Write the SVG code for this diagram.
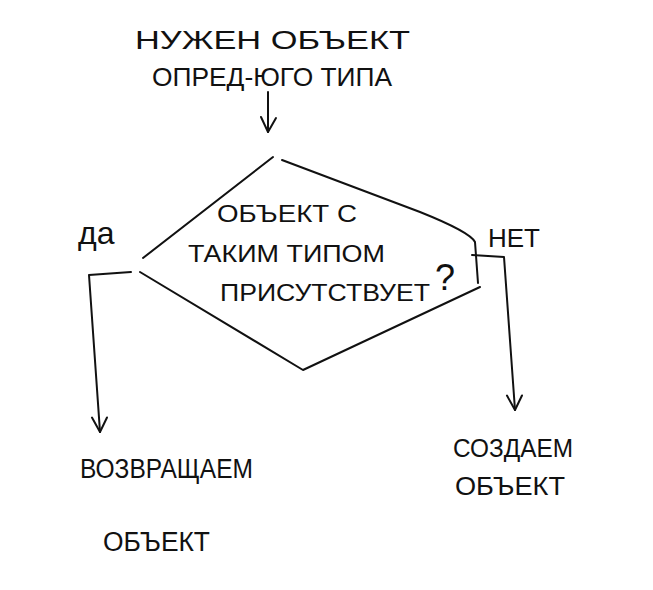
<svg xmlns="http://www.w3.org/2000/svg" width="653" height="590" viewBox="0 0 653 590">
<style>
.ln{fill:none;stroke:#111;stroke-width:2;stroke-linecap:round;stroke-linejoin:round}
.t{font-family:"Liberation Sans","DejaVu Sans",sans-serif;fill:#111}
</style>
<defs>
<marker id="ah" viewBox="0 0 20 20" refX="18" refY="10" markerWidth="20" markerHeight="20" markerUnits="userSpaceOnUse" orient="auto">
<path d="M4,2 L18,10 L3,17" fill="none" stroke="#111" stroke-width="2" stroke-linecap="round" stroke-linejoin="round"/>
</marker>
</defs>
<rect width="653" height="590" fill="#fff"/>
<g id="start">
<text class="t" x="135" y="49" font-size="25" textLength="275" lengthAdjust="spacingAndGlyphs">НУЖЕН  ОБЪЕКТ</text>
<text class="t" x="152" y="86" font-size="25" textLength="240" lengthAdjust="spacingAndGlyphs">ОПРЕД-ЮГО  ТИПА</text>
</g>
<g id="decision">
<path class="ln" d="M143,258 L273,157"/>
<path class="ln" d="M282,160 L420,212 Q470,232 475,242 L478,283"/>
<path class="ln" d="M140,272 L303,370 L480,287"/>
<text class="t" x="217" y="222" font-size="24" textLength="140" lengthAdjust="spacingAndGlyphs">ОБЪЕКТ С</text>
<text class="t" x="188" y="262" font-size="24" textLength="197" lengthAdjust="spacingAndGlyphs">ТАКИМ ТИПОМ</text>
<text class="t" x="220" y="301" font-size="24" textLength="210" lengthAdjust="spacingAndGlyphs">ПРИСУТСТВУЕТ</text>
<text class="t" x="435" y="290" font-size="36">?</text>
</g>
<g id="yes-result">
<text class="t" x="80" y="478" font-size="27" textLength="173" lengthAdjust="spacingAndGlyphs">ВОЗВРАЩАЕМ</text>
<text class="t" x="103" y="551" font-size="27" textLength="107" lengthAdjust="spacingAndGlyphs">ОБЪЕКТ</text>
</g>
<g id="no-result">
<text class="t" x="453" y="457" font-size="25" textLength="120" lengthAdjust="spacingAndGlyphs">СОЗДАЕМ</text>
<text class="t" x="455" y="495" font-size="25" textLength="110" lengthAdjust="spacingAndGlyphs">ОБЪЕКТ</text>
</g>
<g id="connectors">
<path class="ln" d="M268,92 L268,132" marker-end="url(#ah)"/>
<path class="ln" d="M131,272 L89,275 L100,432" marker-end="url(#ah)"/>
<path class="ln" d="M472,255 L504,257 L515,410" marker-end="url(#ah)"/>
<text class="t" x="78" y="244" font-size="32">да</text>
<text class="t" x="488" y="247" font-size="25" textLength="52" lengthAdjust="spacingAndGlyphs">НЕТ</text>
</g>
</svg>
